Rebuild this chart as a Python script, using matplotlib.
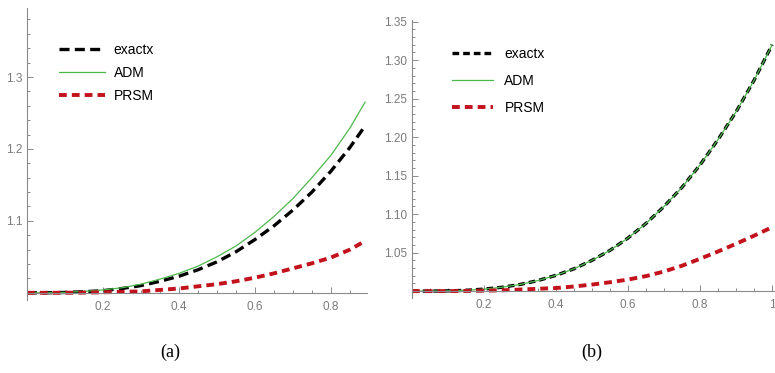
import numpy as np
import matplotlib.pyplot as plt
from matplotlib.ticker import MultipleLocator, FixedLocator, FormatStrFormatter

plt.rcParams['font.family'] = ['Liberation Sans', 'DejaVu Sans']

# panel (a)
xa = [0.0, 0.05, 0.1, 0.15, 0.2, 0.25, 0.3, 0.35, 0.4, 0.45, 0.5, 0.55, 0.6,
      0.65, 0.7, 0.75, 0.8, 0.85, 0.89]
exact_a = [1.000, 1.000, 1.0005, 1.0015, 1.003, 1.006, 1.010, 1.016, 1.023,
           1.032, 1.043, 1.057, 1.074, 1.093, 1.115, 1.140, 1.169, 1.202, 1.232]
adm_a = [1.000, 1.000, 1.0006, 1.002, 1.004, 1.007, 1.012, 1.019, 1.027,
         1.037, 1.050, 1.065, 1.084, 1.106, 1.131, 1.160, 1.191, 1.229, 1.265]
prsm_a = [1.000, 1.000, 1.000, 1.0003, 1.0007, 1.0013, 1.002, 1.004, 1.006,
          1.009, 1.012, 1.016, 1.021, 1.027, 1.034, 1.041, 1.049, 1.060, 1.072]

# panel (b)
xb = [0.0, 0.05, 0.1, 0.15, 0.2, 0.25, 0.3, 0.35, 0.4, 0.45, 0.5, 0.55, 0.6,
      0.65, 0.7, 0.75, 0.8, 0.85, 0.9, 0.95, 1.0]
exact_b = [1.000, 1.000, 1.0003, 1.001, 1.0026, 1.005, 1.0086, 1.0137, 1.0205,
           1.029, 1.040, 1.053, 1.069, 1.088, 1.110, 1.135, 1.164, 1.197,
           1.233, 1.274, 1.320]
adm_b = [1.000, 1.000, 1.0003, 1.001, 1.0026, 1.005, 1.0086, 1.0137, 1.0205,
         1.029, 1.040, 1.053, 1.069, 1.088, 1.110, 1.135, 1.164, 1.197,
         1.233, 1.274, 1.320]
prsm_b = [1.000, 1.000, 1.000, 1.0002, 1.0005, 1.001, 1.002, 1.003, 1.004,
          1.006, 1.0085, 1.0115, 1.015, 1.0195, 1.0255, 1.033, 1.042, 1.0515,
          1.0615, 1.072, 1.083]

labels = ['exactx', 'ADM', 'PRSM']
BLACK = '#000000'
GREEN = '#4cb84c'
RED = '#c3121c'
GRAY = '#8a8a8a'


def style_axes(ax, xlim, ylim, xmaj, ymaj, yfmt, ymin_step):
    ax.set_xlim(*xlim)
    ax.set_ylim(*ylim)
    for s in ['top', 'right']:
        ax.spines[s].set_visible(False)
    ax.spines['bottom'].set_position(('data', 1.0))
    for s in ['left', 'bottom']:
        ax.spines[s].set_color(GRAY)
        ax.spines[s].set_linewidth(0.8)
    ax.xaxis.set_major_locator(FixedLocator(xmaj))
    ax.xaxis.set_minor_locator(MultipleLocator(0.05))
    ax.yaxis.set_major_locator(FixedLocator(ymaj))
    ax.yaxis.set_minor_locator(MultipleLocator(ymin_step))
    ax.yaxis.set_major_formatter(FormatStrFormatter(yfmt))
    ax.xaxis.set_major_formatter(FormatStrFormatter('%g'))
    ax.tick_params(which='both', direction='in', color=GRAY, labelcolor='#7a7a7a',
                   labelsize=8.5, width=0.7)
    ax.tick_params(which='major', length=4.5)
    ax.tick_params(which='minor', length=2.5)
    ax.tick_params(axis='x', pad=6)
    ax.patch.set_visible(False)


fig = plt.figure(figsize=(7.75, 3.73), dpi=100)

ax1 = fig.add_axes([0.0348, 0.1957, 0.4387, 0.783])
ax1.plot(xa, exact_a, color=BLACK, lw=2.4, dashes=(3.0, 1.6), label=labels[0])
ax1.plot(xa, adm_a, color=GREEN, lw=0.9, label=labels[1])
ax1.plot(xa, prsm_a, color=RED, lw=2.8, dashes=(2.0, 1.3), label=labels[2])
style_axes(ax1, (0, 0.895), (0.99, 1.396), [0.2, 0.4, 0.6, 0.8],
           [1.1, 1.2, 1.3], '%.1f', 0.02)
ax1.legend(loc='upper left', bbox_to_anchor=(0.075, 0.905), frameon=False,
           fontsize=10, handlelength=3.3, handletextpad=0.6, labelspacing=0.65,
           borderpad=0)

ax2 = fig.add_axes([0.5316, 0.201, 0.4684, 0.745])
ax2.plot(xb, exact_b, color=BLACK, lw=2.4, dashes=(2.0, 1.2), label=labels[0])
ax2.plot(xb, adm_b, color=GREEN, lw=0.9, label=labels[1])
ax2.plot(xb, prsm_b, color=RED, lw=2.8, dashes=(2.0, 1.3), label=labels[2])
style_axes(ax2, (0, 1.008), (0.991, 1.352), [0.2, 0.4, 0.6, 0.8, 1.0],
           [1.05, 1.10, 1.15, 1.20, 1.25, 1.30, 1.35], '%.2f', 0.01)
ax2.legend(loc='upper left', bbox_to_anchor=(0.09, 0.93), frameon=False,
           fontsize=10, handlelength=3.0, handletextpad=0.8, labelspacing=0.95,
           borderpad=0)

fig.text(170 / 775, 1 - 352 / 373, '(a)', ha='center', va='center',
         fontsize=13, family='Liberation Serif')
fig.text(592 / 775, 1 - 352 / 373, '(b)', ha='center', va='center',
         fontsize=13, family='Liberation Serif')

fig.savefig('out.png', dpi=100)
